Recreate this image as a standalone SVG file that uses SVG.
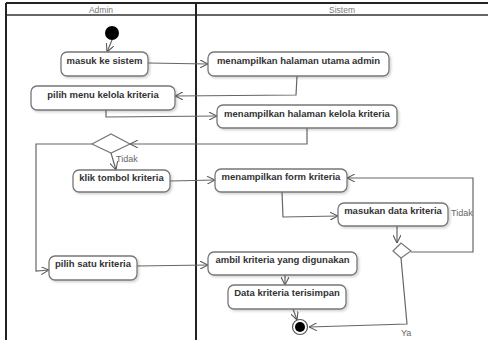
<svg xmlns="http://www.w3.org/2000/svg" width="488" height="340" viewBox="0 0 488 340">
  <defs>
    <marker id="arr" viewBox="0 0 10 10" refX="10" refY="5" markerWidth="8" markerHeight="8" orient="auto-start-reverse" markerUnits="userSpaceOnUse">
      <path d="M0,0 L10,5 L0,10" fill="none" stroke="#555" stroke-width="1.3"/>
    </marker>
    <filter id="sh" x="-10%" y="-20%" width="130%" height="160%">
      <feDropShadow dx="1.5" dy="1.5" stdDeviation="1.2" flood-color="#000" flood-opacity="0.18"/>
    </filter>
  </defs>
  <style>
    .lane { fill: none; stroke: #222; stroke-width: 2; }
    .hdr { font-family: "Liberation Sans", Arial, sans-serif; font-size: 8.5px; fill: #777; text-anchor: middle; }
    .act rect { fill: #fff; stroke: #777; stroke-width: 1.3; filter: url(#sh); }
    .act text { font-family: "Liberation Sans", Arial, sans-serif; font-size: 9.5px; font-weight: bold; fill: #333; text-anchor: middle; }
    .dec { fill: #fff; stroke: #777; stroke-width: 1.2; }
    .conn path { fill: none; stroke: #666; stroke-width: 1.2; marker-end: url(#arr); }
    .lbl { font-family: "Liberation Sans", Arial, sans-serif; font-size: 9px; fill: #666; }
  </style>
  <rect width="488" height="340" fill="#fff"/>

  <!-- swimlane frame -->
  <g id="lanes">
    <line x1="6" y1="3" x2="488" y2="3" class="lane"/>
    <line x1="6" y1="15" x2="488" y2="15" stroke="#666" stroke-width="2"/>
    <line x1="6" y1="3" x2="6" y2="340" class="lane"/>
    <line x1="196" y1="3" x2="196" y2="340" class="lane"/>
    <text x="101" y="12.5" class="hdr">Admin</text>
    <text x="342" y="12.5" class="hdr">Sistem</text>
  </g>

  <!-- connectors -->
  <g id="connectors" class="conn">
    <path d="M112,40 L107,52"/>
    <path d="M148,63 L208,64"/>
    <path d="M297,76 L296,95 L175,96"/>
    <path d="M106,110 L106,117 L217,116"/>
    <path d="M307,128 L307,144 L130,144"/>
    <path d="M92,144 L36,144 L36,271 L49,270"/>
    <path d="M111,153 L116,170"/>
    <path d="M170,181 L215,180"/>
    <path d="M282,192 L283,217 L338,216"/>
    <path d="M397,226 L397,243"/>
    <path d="M411,252 L473,252 L473,178 L347,178"/>
    <path d="M401,258 L407,324 L309,327"/>
    <path d="M137,266 L208,265"/>
    <path d="M285,275 L285,285"/>
    <path d="M293,309 L297,320"/>
  </g>

  <!-- start node -->
  <g id="start">
    <circle cx="112" cy="33" r="7" fill="#000"/>
  </g>

  <g id="masuk" class="act">
    <rect x="61" y="52" width="87" height="24" rx="6"/>
    <text x="104.5" y="64">masuk ke sistem</text>
  </g>
  <g id="halaman-utama" class="act">
    <rect x="208" y="52" width="181" height="24" rx="6"/>
    <text x="298.5" y="64">menampilkan halaman utama admin</text>
  </g>
  <g id="pilih-menu" class="act">
    <rect x="31" y="86" width="144" height="24" rx="6"/>
    <text x="103" y="98">pilih menu kelola kriteria</text>
  </g>
  <g id="halaman-kelola" class="act">
    <rect x="217" y="105" width="180" height="23" rx="6"/>
    <text x="307" y="117">menampilkan halaman kelola kriteria</text>
  </g>

  <g id="decision1">
    <polygon points="92,144 111,134 130,144 111,153" class="dec"/>
  </g>
  <text x="116" y="162" class="lbl">Tidak</text>

  <g id="klik-tombol" class="act">
    <rect x="73" y="170" width="97" height="22" rx="6"/>
    <text x="121.5" y="181">klik tombol kriteria</text>
  </g>
  <g id="form-kriteria" class="act">
    <rect x="215" y="169" width="132" height="23" rx="6"/>
    <text x="281" y="180">menampilkan form kriteria</text>
  </g>
  <g id="masukan-data" class="act">
    <rect x="338" y="203" width="110" height="23" rx="6"/>
    <text x="393" y="214">masukan data kriteria</text>
  </g>
  <text x="451" y="216" class="lbl">Tidak</text>

  <g id="decision2">
    <polygon points="393,251 401,243 411,251 401,258" class="dec"/>
  </g>

  <g id="pilih-satu" class="act">
    <rect x="49" y="256" width="88" height="24" rx="6"/>
    <text x="93" y="267">pilih satu kriteria</text>
  </g>
  <g id="ambil-kriteria" class="act">
    <rect x="208" y="252" width="149" height="23" rx="6"/>
    <text x="282.5" y="263">ambil kriteria yang digunakan</text>
  </g>
  <g id="data-tersimpan" class="act">
    <rect x="228" y="285" width="118" height="24" rx="6"/>
    <text x="287" y="296">Data kriteria terisimpan</text>
  </g>

  <g id="end">
    <circle cx="300" cy="327" r="7.5" fill="#fff" stroke="#555" stroke-width="1.2"/>
    <circle cx="300" cy="327" r="5" fill="#000"/>
  </g>
  <text x="401" y="336" class="lbl">Ya</text>
</svg>
